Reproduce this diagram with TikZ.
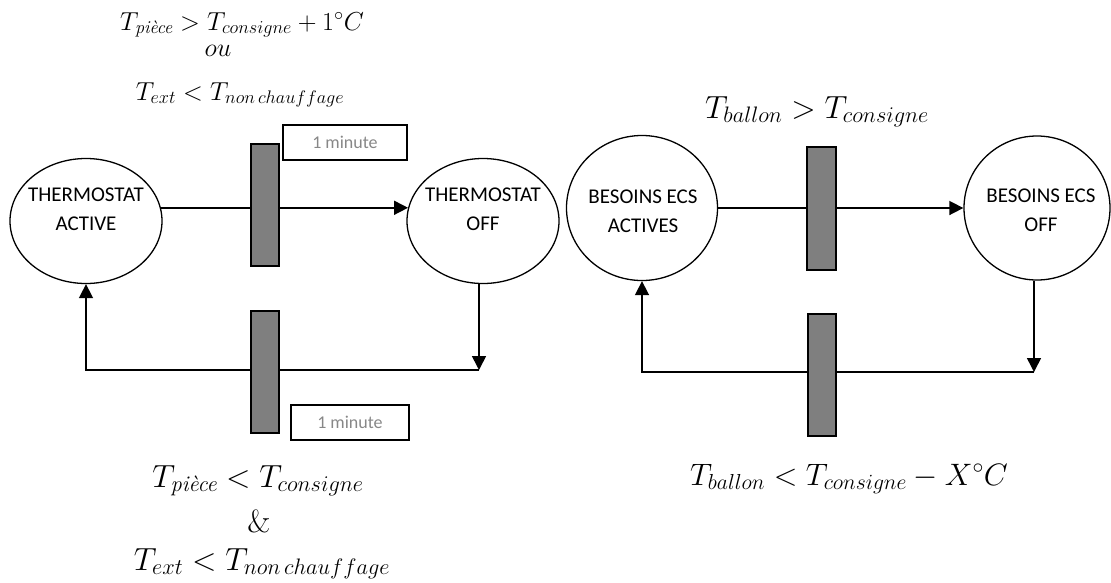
\RequirePackage{fix-cm}
\documentclass[tikz,border=0pt]{standalone}
\usepackage{amsmath}
\usepackage[no-math]{fontspec}
\newfontfamily\calibri{Carlito}
\usetikzlibrary{shapes.geometric,arrows.meta}
\definecolor{barg}{RGB}{127,127,127}
\definecolor{mintxt}{RGB}{135,135,135}
\newcommand{\piece}{\text{\itshape pièce}}
\begin{document}
\begin{tikzpicture}[x=1pt,y=-1pt,
  place/.style={draw, line width=1.3pt, ellipse, inner sep=0pt},
  lbl/.style={font=\calibri\fontsize{21}{29}\selectfont, align=center, inner sep=0pt},
  trans/.style={draw, line width=1.5pt, fill=barg, rectangle, inner sep=0pt, minimum width=28pt, minimum height=122pt},
  delay/.style={draw, line width=1.8pt, rectangle, inner sep=0pt, minimum height=35pt, text=mintxt, font=\calibri\fontsize{18}{20}\selectfont},
  arr/.style={line width=1.6pt, -{Triangle[length=14pt,width=14pt]}},
  condA/.style={anchor=base, inner sep=0pt, font=\fontsize{26}{30}\selectfont},
  condB/.style={anchor=base, inner sep=0pt, font=\fontsize{32}{36}\selectfont}]
\useasboundingbox (0,0) rectangle (1111,582);

% places
\node[place, minimum width=152pt, minimum height=125pt] (A) at (86,221) {};
\node[lbl] (At) at (86,209) {THERMOSTAT\\ACTIVE};
\node[place, minimum width=152pt, minimum height=125pt] (B) at (483,221) {};
\node[lbl] (Bt) at (483,209) {THERMOSTAT\\OFF};
\node[place, minimum width=151pt, minimum height=145pt] (C) at (642,208) {};
\node[lbl] (Ct) at (643,211) {BESOINS ECS\\ACTIVES};
\node[place, minimum width=146pt, minimum height=144pt] (D) at (1037,208) {};
\node[lbl] (Dt) at (1041,210) {BESOINS ECS\\OFF};

% corner points
\coordinate (c1) at (479,370);
\coordinate (c2) at (86,370);
\coordinate (c3) at (1034,372);
\coordinate (c4) at (642,372);

% connectors
\draw[arr] (A.10) -- (B.170);
\draw[arr] (B.south -| c1) -- (c1);
\draw[arr] (c1) -- (c2) -- (A.south);
\draw[arr] (C.east) -- (D.west);
\draw[arr] (D.south -| c3) -- (c3);
\draw[arr] (c3) -- (c4) -- (C.south);

% transitions
\node[trans] (T1) at (265,205) {};
\node[trans] (T2) at (265,372) {};
\node[trans, minimum width=29pt, minimum height=123pt] (T3) at (821.5,208.5) {};
\node[trans] (T4) at (822,375) {};

% delays
\node[delay, minimum width=124pt] (d1) at (345,142.5) {1 minute};
\node[delay, minimum width=118pt] (d2) at (350,422.5) {1 minute};

% conditions
\node[condA] (q1) at (242,30) {$T_{\piece} > T_{consigne} + 1^{\circ}C$};
\node[condA] (q2) at (218,56) {$ou$};
\node[condA] (q3) at (240,100) {$T_{ext} < T_{non\,chauffage}$};
\node[condB] (q4) at (817,118) {$T_{ballon} > T_{consigne}$};
\node[condB] (q5) at (258,487) {$T_{\piece} < T_{consigne}$};
\node[condB] (q6) at (259,532) {$\&$};
\node[condB] (q7) at (262,570) {$T_{ext} < T_{non\,chauffage}$};
\node[condB, font=\fontsize{31}{36}\selectfont] (q8) at (849,485) {$T_{ballon} < T_{consigne} - X^{\circ}C$};
\end{tikzpicture}
\end{document}
